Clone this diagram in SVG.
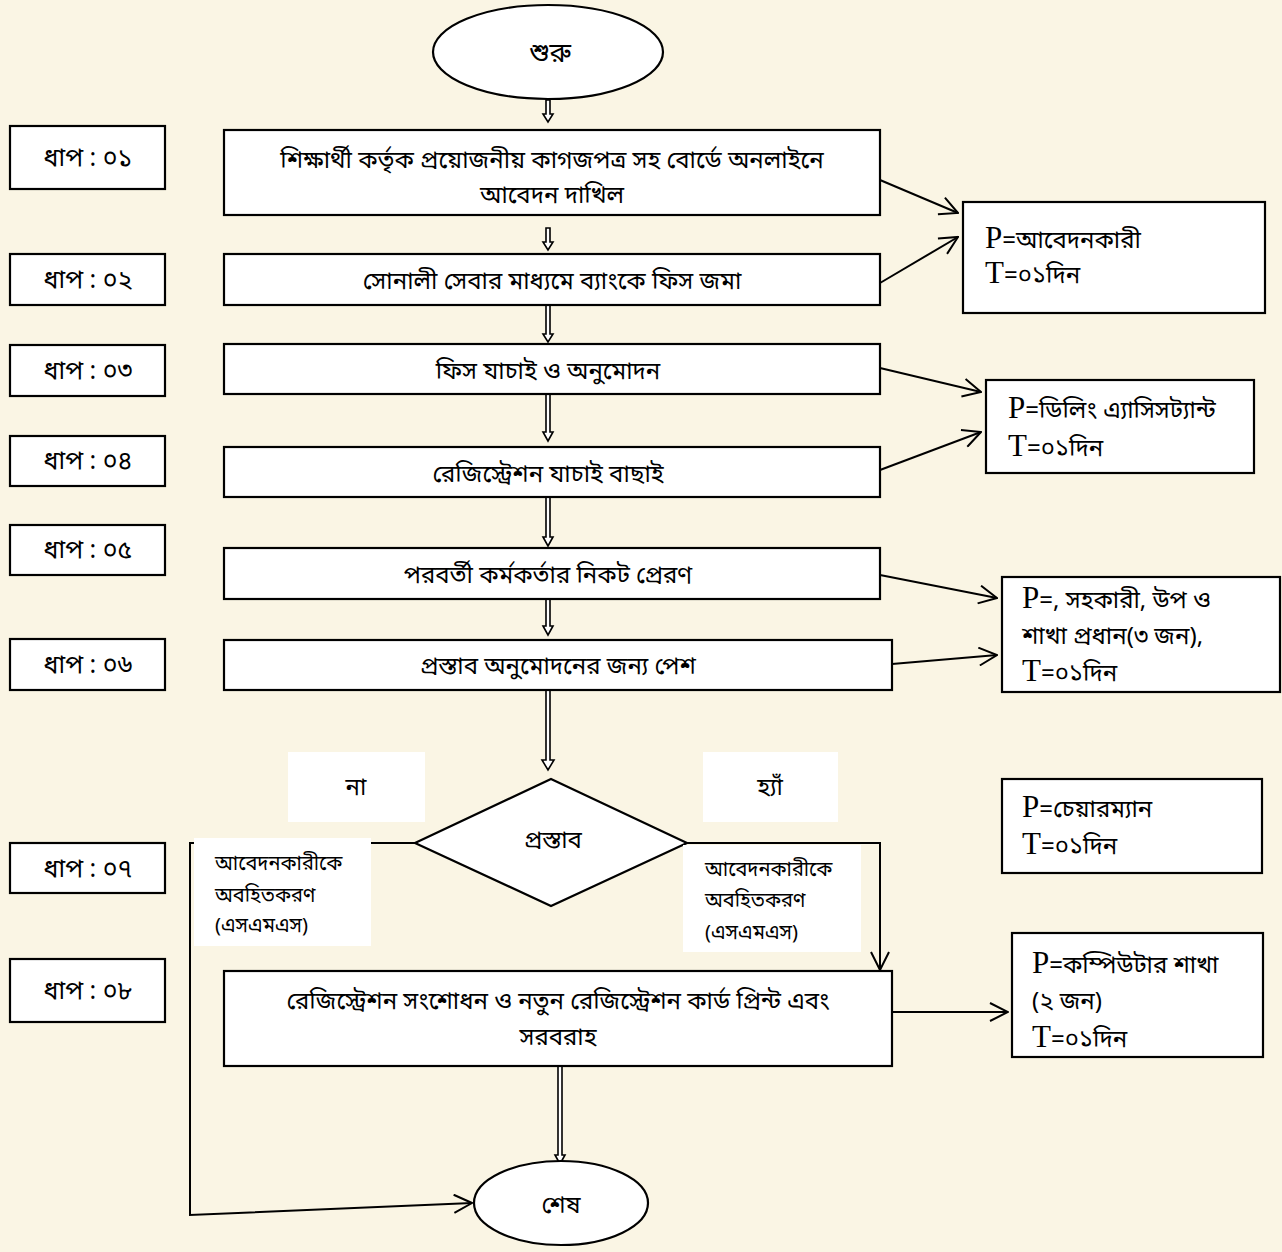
<svg xmlns="http://www.w3.org/2000/svg" width="1282" height="1252" viewBox="0 0 1282 1252">
<defs>
<style>
.bg{fill:#FAF5E4}
.box{fill:#fff;stroke:#000;stroke-width:2.2}
.wbox{fill:#fff;stroke:none}
.t{font-family:"Noto Sans Bengali","Noto Serif Bengali","Lohit Bengali","FreeSerif","Noto Sans",sans-serif;font-size:24px;fill:#000}
.tc{text-anchor:middle}
.st{font-size:25px}
.big{font-size:27px}
.ts{font-size:20px}
.pt{font-family:"Liberation Serif","Noto Serif Bengali","Noto Sans Bengali",serif;font-size:31px}
.ln{fill:none;stroke:#000;stroke-width:2}
.dbl{fill:#fff;stroke:#000;stroke-width:1.6}
</style>
<marker id="openL" viewBox="0 0 20 20" refX="19" refY="10" markerWidth="20" markerHeight="20" markerUnits="userSpaceOnUse" orient="auto"><path d="M1,1 L19,10 L1,19" fill="none" stroke="#000" stroke-width="2"/></marker>
</defs>
<rect class="bg" x="0" y="0" width="1282" height="1252"/>

<g id="connectors">
<path class="dbl" d="M546,100 V114 H543 L548,122 L553,114 H550 V100 Z"/>
<path class="dbl" d="M546,228 V242 H543 L548,250 L553,242 H550 V228 Z"/>
<path class="dbl" d="M546,305 V334 H543 L548,342 L553,334 H550 V305 Z"/>
<path class="dbl" d="M546,394 V432 H543 L548,441 L553,432 H550 V394 Z"/>
<path class="dbl" d="M546,497 V537 H543 L548,546 L553,537 H550 V497 Z"/>
<path class="dbl" d="M546,599 V626 H543 L548,635 L553,626 H550 V599 Z"/>
<path class="dbl" d="M546,690 V760 H542 L548,770 L554,760 H550 V690 Z"/>
<path class="dbl" d="M558,1062 V1155 H555 L560,1164 L565,1155 H562 V1062 Z"/>
<line class="ln" x1="880" y1="180" x2="958" y2="213" marker-end="url(#openL)"/>
<line class="ln" x1="880" y1="283" x2="958" y2="237" marker-end="url(#openL)"/>
<line class="ln" x1="880" y1="368" x2="981" y2="392" marker-end="url(#openL)"/>
<line class="ln" x1="880" y1="470" x2="981" y2="432" marker-end="url(#openL)"/>
<line class="ln" x1="880" y1="575" x2="997" y2="598" marker-end="url(#openL)"/>
<line class="ln" x1="892" y1="664" x2="997" y2="655" marker-end="url(#openL)"/>
<line class="ln" x1="892" y1="1012" x2="1008" y2="1012" marker-end="url(#openL)"/>
<polyline class="ln" points="415,843 190,843 190,1215 472,1203" marker-end="url(#openL)"/>
<polyline class="ln" points="687,843 880,843 880,970" marker-end="url(#openL)"/>
</g>

<g id="start"><ellipse class="box" cx="548" cy="52" rx="115" ry="47"/><text class="t tc big" x="550" y="62">শুরু</text></g>

<g id="step1"><rect class="box" x="10" y="126" width="155" height="63"/><text class="t tc st" x="88" y="166">ধাপ : ০১</text></g>
<g id="step2"><rect class="box" x="10" y="254" width="155" height="51"/><text class="t tc st" x="88" y="288">ধাপ : ০২</text></g>
<g id="step3"><rect class="box" x="10" y="345" width="155" height="51"/><text class="t tc st" x="88" y="379">ধাপ : ০৩</text></g>
<g id="step4"><rect class="box" x="10" y="436" width="155" height="50"/><text class="t tc st" x="88" y="469">ধাপ : ০৪</text></g>
<g id="step5"><rect class="box" x="10" y="525" width="155" height="50"/><text class="t tc st" x="88" y="558">ধাপ : ০৫</text></g>
<g id="step6"><rect class="box" x="10" y="639" width="155" height="51"/><text class="t tc st" x="88" y="673">ধাপ : ০৬</text></g>
<g id="step7"><rect class="box" x="10" y="843" width="155" height="50"/><text class="t tc st" x="88" y="877">ধাপ : ০৭</text></g>
<g id="step8"><rect class="box" x="10" y="959" width="155" height="63"/><text class="t tc st" x="88" y="999">ধাপ : ০৮</text></g>

<g id="proc1"><rect class="box" x="224" y="130" width="656" height="85"/><text class="t tc" x="552" y="168">শিক্ষার্থী কর্তৃক প্রয়োজনীয় কাগজপত্র সহ বোর্ডে অনলাইনে</text><text class="t tc" x="552" y="203">আবেদন দাখিল</text></g>
<g id="proc2"><rect class="box" x="224" y="254" width="656" height="51"/><text class="t tc" x="552" y="289">সোনালী সেবার মাধ্যমে ব্যাংকে ফিস জমা</text></g>
<g id="proc3"><rect class="box" x="224" y="344" width="656" height="50"/><text class="t tc" x="548" y="379">ফিস যাচাই ও অনুমোদন</text></g>
<g id="proc4"><rect class="box" x="224" y="447" width="656" height="50"/><text class="t tc" x="548" y="482">রেজিস্ট্রেশন যাচাই বাছাই</text></g>
<g id="proc5"><rect class="box" x="224" y="548" width="656" height="51"/><text class="t tc" x="548" y="583">পরবর্তী কর্মকর্তার নিকট প্রেরণ</text></g>
<g id="proc6"><rect class="box" x="224" y="640" width="668" height="50"/><text class="t tc" x="558" y="674">প্রস্তাব অনুমোদনের জন্য পেশ</text></g>

<g id="label-no"><rect class="wbox" x="288" y="752" width="137" height="70"/><text class="t tc" x="356" y="795">না</text></g>
<g id="label-yes"><rect class="wbox" x="703" y="752" width="135" height="70"/><text class="t tc" x="770" y="795">হ্যাঁ</text></g>

<g id="decision"><polygon class="box" points="551,779 687,843 551,906 415,843"/><text class="t tc" x="553" y="848">প্রস্তাব</text></g>

<g id="notify-no"><rect class="wbox" x="194" y="838" width="177" height="108"/><text class="t ts" x="215" y="870">আবেদনকারীকে</text><text class="t ts" x="215" y="902">অবহিতকরণ</text><text class="t ts" x="215" y="932">(এসএমএস)</text></g>
<g id="notify-yes"><rect class="wbox" x="683" y="845" width="178" height="107"/><text class="t ts" x="705" y="876">আবেদনকারীকে</text><text class="t ts" x="705" y="907">অবহিতকরণ</text><text class="t ts" x="705" y="939">(এসএমএস)</text></g>

<g id="proc8"><rect class="box" x="224" y="971" width="668" height="95"/><text class="t tc" x="558" y="1009">রেজিস্ট্রেশন সংশোধন ও নতুন রেজিস্ট্রেশন কার্ড প্রিন্ট  এবং</text><text class="t tc" x="558" y="1045">সরবরাহ</text></g>

<g id="end"><ellipse class="box" cx="561" cy="1203" rx="87" ry="42"/><text class="t tc" x="561" y="1213">শেষ</text></g>

<g id="res1"><rect class="box" x="963" y="202" width="302" height="111"/><text class="t" x="985" y="248"><tspan class="pt">P</tspan>=আবেদনকারী</text><text class="t" x="985" y="283"><tspan class="pt">T</tspan>=০১দিন</text></g>
<g id="res2"><rect class="box" x="986" y="380" width="268" height="93"/><text class="t" x="1008" y="418"><tspan class="pt">P</tspan>=ডিলিং এ্যাসিসট্যান্ট</text><text class="t" x="1008" y="456"><tspan class="pt">T</tspan>=০১দিন</text></g>
<g id="res3"><rect class="box" x="1002" y="577" width="278" height="115"/><text class="t" x="1022" y="608"><tspan class="pt">P</tspan>=, সহকারী, উপ ও</text><text class="t" x="1022" y="644">শাখা প্রধান(৩ জন),</text><text class="t" x="1022" y="681"><tspan class="pt">T</tspan>=০১দিন</text></g>
<g id="res4"><rect class="box" x="1002" y="779" width="260" height="94"/><text class="t" x="1022" y="817"><tspan class="pt">P</tspan>=চেয়ারম্যান</text><text class="t" x="1022" y="854"><tspan class="pt">T</tspan>=০১দিন</text></g>
<g id="res5"><rect class="box" x="1012" y="933" width="251" height="124"/><text class="t" x="1032" y="973"><tspan class="pt">P</tspan>=কম্পিউটার শাখা</text><text class="t" x="1032" y="1009">(২ জন)</text><text class="t" x="1032" y="1047"><tspan class="pt">T</tspan>=০১দিন</text></g>
</svg>
